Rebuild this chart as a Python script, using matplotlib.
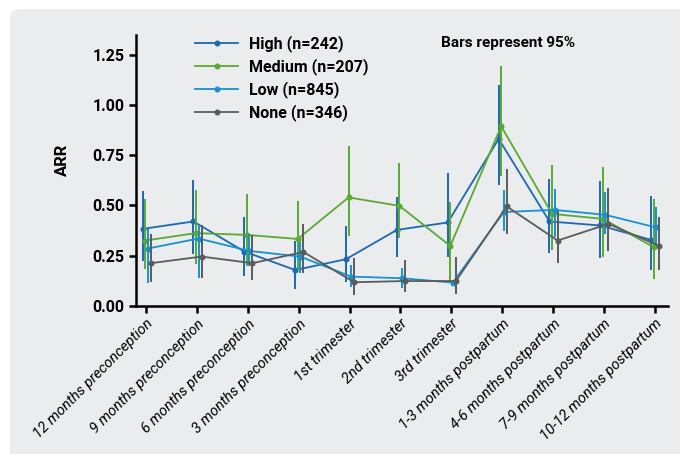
import numpy as np
import matplotlib.pyplot as plt
from matplotlib.patches import FancyBboxPatch

categories = ["12 months preconception", "9 months preconception", "6 months preconception",
              "3 months preconception", "1st trimester", "2nd trimester", "3rd trimester",
              "1-3 months postpartum", "4-6 months postpartum", "7-9 months postpartum",
              "10-12 months postpartum"]

# ARR estimates with 95% CI (lower, upper)
high = [0.383, 0.42, 0.27, 0.178, 0.232, 0.378, 0.415, 0.832, 0.42, 0.40, 0.328]
high_lo = [0.225, 0.258, 0.15, 0.083, 0.117, 0.242, 0.242, 0.603, 0.262, 0.237, 0.178]
high_hi = [0.570, 0.625, 0.442, 0.323, 0.398, 0.54, 0.662, 1.103, 0.632, 0.623, 0.548]

medium = [0.325, 0.362, 0.353, 0.333, 0.54, 0.498, 0.298, 0.895, 0.458, 0.433, 0.292]
medium_lo = [0.182, 0.208, 0.2, 0.178, 0.35, 0.337, 0.12, 0.645, 0.278, 0.242, 0.132]
medium_hi = [0.532, 0.575, 0.558, 0.523, 0.795, 0.712, 0.517, 1.195, 0.70, 0.69, 0.532]

low = [0.285, 0.335, 0.273, 0.245, 0.145, 0.137, 0.115, 0.467, 0.478, 0.453, 0.39]
low_lo = [0.115, 0.14, 0.2, 0.165, 0.092, 0.09, 0.10, 0.375, 0.345, 0.357, 0.307]
low_hi = [0.382, 0.403, 0.36, 0.32, 0.203, 0.19, 0.13, 0.575, 0.582, 0.567, 0.492]

none = [0.212, 0.245, 0.212, 0.268, 0.117, 0.123, 0.123, 0.495, 0.325, 0.408, 0.298]
none_lo = [0.12, 0.14, 0.128, 0.162, 0.053, 0.067, 0.057, 0.358, 0.212, 0.275, 0.178]
none_hi = [0.357, 0.403, 0.353, 0.407, 0.237, 0.228, 0.242, 0.682, 0.47, 0.587, 0.44]

series = [
    ("High (n=242)", high, high_lo, high_hi, "#1b68b3", -0.07),
    ("Medium (n=207)", medium, medium_lo, medium_hi, "#5aa932", -0.02),
    ("Low (n=845)", low, low_lo, low_hi, "#1592d2", 0.03),
    ("None (n=346)", none, none_lo, none_hi, "#5b5b5b", 0.09),
]

plt.rcParams['font.family'] = ['Roboto', 'DejaVu Sans']

fig = plt.figure(figsize=(6.8, 4.54), dpi=100)
fig.patch.set_facecolor('white')

# grey rounded panel behind everything
bg = fig.add_axes([0, 0, 1, 1], zorder=-5)
bg.set_axis_off()
bg.set_xlim(0, 680)
bg.set_ylim(454, 0)
bg.add_patch(FancyBboxPatch((10, 9), 700, 480, boxstyle="round,pad=0,rounding_size=10",
                            facecolor='#ebeced', edgecolor='none'))

ax = fig.add_axes([136/680, (454-305.7)/454, 532/680, 270.7/454])
ax.set_facecolor('none')

x = np.arange(len(categories))
handles = []
for i, (name, vals, lo, hi, col, off) in enumerate(series):
    xs = x + off
    v = np.array(vals)
    yerr = [v - np.array(lo), np.array(hi) - v]
    ax.errorbar(xs, v, yerr=yerr, fmt='none', ecolor=col, elinewidth=1.4,
                capsize=0, zorder=2+i)
    ln, = ax.plot(xs, v, '-o', color=col, lw=1.3, markersize=3.3, label=name,
                  zorder=2+i)
    handles.append(ln)

ax.set_xlim(-0.2, 10.26)
ax.set_ylim(0, 1.35)
ax.set_yticks([0, 0.25, 0.5, 0.75, 1.0, 1.25])
ax.set_yticklabels(["0.00", "0.25", "0.50", "0.75", "1.00", "1.25"],
                   fontsize=11.5, fontweight='bold')
ax.set_xticks(x)
ax.set_xticklabels(categories, rotation=45, ha='right', rotation_mode='anchor',
                   fontsize=10.5, fontstyle='italic')
ax.tick_params(axis='both', direction='out', length=5, width=1.8, color='black')
ax.tick_params(axis='x', pad=3)
for s in ['top', 'right']:
    ax.spines[s].set_visible(False)
for s in ['left', 'bottom']:
    ax.spines[s].set_linewidth(1.8)

ax.set_ylabel("ARR", fontsize=12, fontweight='bold')
ax.yaxis.set_label_coords(-0.125, 0.54)

leg = ax.legend(handles=handles, loc='upper left', bbox_to_anchor=(195/680, 1 - 35/454),
                bbox_transform=fig.transFigure, frameon=False,
                prop={'size': 11.5, 'weight': 'bold'}, handlelength=2.7,
                handletextpad=0.7, labelspacing=0.38, borderaxespad=0, borderpad=0)

fig.text(441/680, 1 - 43/454, "Bars represent 95%", fontsize=11,
         fontweight='bold', va='center', ha='left')

fig.savefig("out.png", dpi=100)
